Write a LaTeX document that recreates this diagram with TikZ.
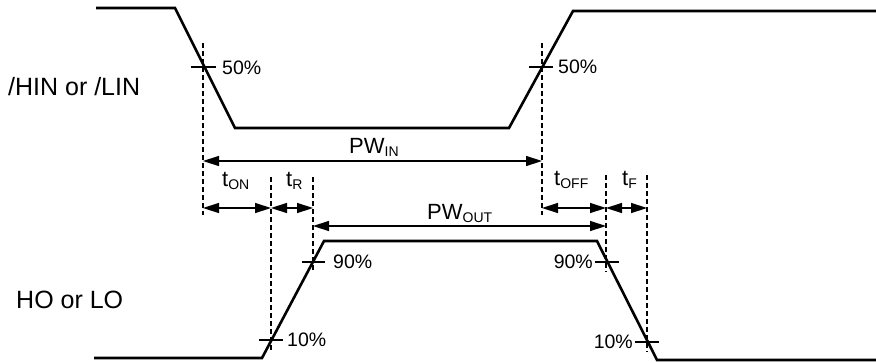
\documentclass[tikz,border=0pt]{standalone}
\usepackage{fontspec}
\setmainfont{Liberation Sans}
\usetikzlibrary{arrows.meta}
\newcommand\mysub[1]{\raisebox{-3pt}{\fontsize{14}{14}\selectfont #1}}
\tikzset{
  wave/.style={line width=2.6pt, line join=miter},
  guide/.style={line width=1.1pt, dash pattern=on 5pt off 3pt},
  tick/.style={line width=1.2pt},
  dim/.style={line width=1.4pt, {Triangle[length=16pt,width=10pt]}-{Triangle[length=16pt,width=10pt]}},
  pct/.style={font=\fontsize{19.5}{20}\selectfont, inner sep=0pt},
  tlab/.style={font=\fontsize{22}{24}\selectfont, inner sep=0pt, anchor=base west},
  sig/.style={font=\fontsize{25}{28}\selectfont, inner sep=0pt, anchor=base west},
}
\begin{document}
\begin{tikzpicture}[x=1pt,y=-1pt]
\useasboundingbox (0,0) rectangle (876,362);
% input waveform
\coordinate (i0) at (96,8);
\coordinate (i1) at (175,8);
\coordinate (i2) at (235,128);
\coordinate (i3) at (509,128);
\coordinate (i4) at (573,11);
\coordinate (i5) at (876,11);
\draw[wave] (i0) -- (i1) -- (i2) -- (i3) -- (i4) -- (i5);
% output waveform
\coordinate (o0) at (94,358);
\coordinate (o1) at (262,358);
\coordinate (o2) at (324,241);
\coordinate (o3) at (597,241);
\coordinate (o4) at (657,360);
\coordinate (o5) at (876,360);
\draw[wave] (o0) -- (o1) -- (o2) -- (o3) -- (o4) -- (o5);
% guide lines
\coordinate (g1t) at (203,43);  \coordinate (g1b) at (203,215);
\coordinate (g2t) at (542,43);  \coordinate (g2b) at (542,215);
\coordinate (g3t) at (271,177); \coordinate (g3b) at (271,352);
\coordinate (g4t) at (313,177); \coordinate (g4b) at (313,270);
\coordinate (g5t) at (606,175); \coordinate (g5b) at (606,272);
\coordinate (g6t) at (647,175); \coordinate (g6b) at (647,352);
\foreach \g in {1,...,6} \draw[guide] (g\g t) -- (g\g b);
% ticks
\coordinate (k1a) at (191,67);  \coordinate (k1b) at (216,67);
\coordinate (k2a) at (529,67);  \coordinate (k2b) at (553,67);
\coordinate (k3a) at (302,262); \coordinate (k3b) at (325,262);
\coordinate (k4a) at (259,340); \coordinate (k4b) at (283,340);
\coordinate (k5a) at (595,262); \coordinate (k5b) at (619,262);
\coordinate (k6a) at (635,342); \coordinate (k6b) at (659,342);
\foreach \k in {1,...,6} \draw[tick] (k\k a) -- (k\k b);
% percent labels
\node[pct, anchor=base west] (p1) at (222,74) {50\%};
\node[pct, anchor=base west] (p2) at (558,73) {50\%};
\node[pct, anchor=base west] (p3) at (333,268) {90\%};
\node[pct, anchor=base west] (p4) at (287,346) {10\%};
\node[pct, anchor=base east] (p5) at (593,268) {90\%};
\node[pct, anchor=base east] (p6) at (633,348) {10\%};
% dimension arrows
\coordinate (d1a) at (203,161); \coordinate (d1b) at (542,161);
\draw[dim] (d1a) -- (d1b);
\coordinate (d2a) at (313,226); \coordinate (d2b) at (606,226);
\draw[dim] (d2a) -- (d2b);
\coordinate (d3a) at (203,208); \coordinate (d3b) at (271,208);
\draw[dim] (d3a) -- (d3b);
\coordinate (d4a) at (271,208); \coordinate (d4b) at (313,208);
\draw[dim] (d4a) -- (d4b);
\coordinate (d5a) at (542,208); \coordinate (d5b) at (606,208);
\draw[dim] (d5a) -- (d5b);
\coordinate (d6a) at (606,208); \coordinate (d6b) at (647,208);
\draw[dim] (d6a) -- (d6b);
% dimension labels
\node[tlab] (pwin) at (349,153) {PW\mysub{IN}};
\node[tlab] (pwout) at (427,219) {PW\mysub{OUT}};
\node[tlab] (ton) at (222,186) {t\mysub{ON}};
\node[tlab] (tr) at (286,186) {t\mysub{R}};
\node[tlab] (toff) at (554,185) {t\mysub{OFF}};
\node[tlab] (tf) at (622,185) {t\mysub{F}};
% signal names
\node[sig] (hin) at (8,95) {/HIN or /LIN};
\node[sig] (ho) at (16,308) {HO or LO};
\end{tikzpicture}
\end{document}
